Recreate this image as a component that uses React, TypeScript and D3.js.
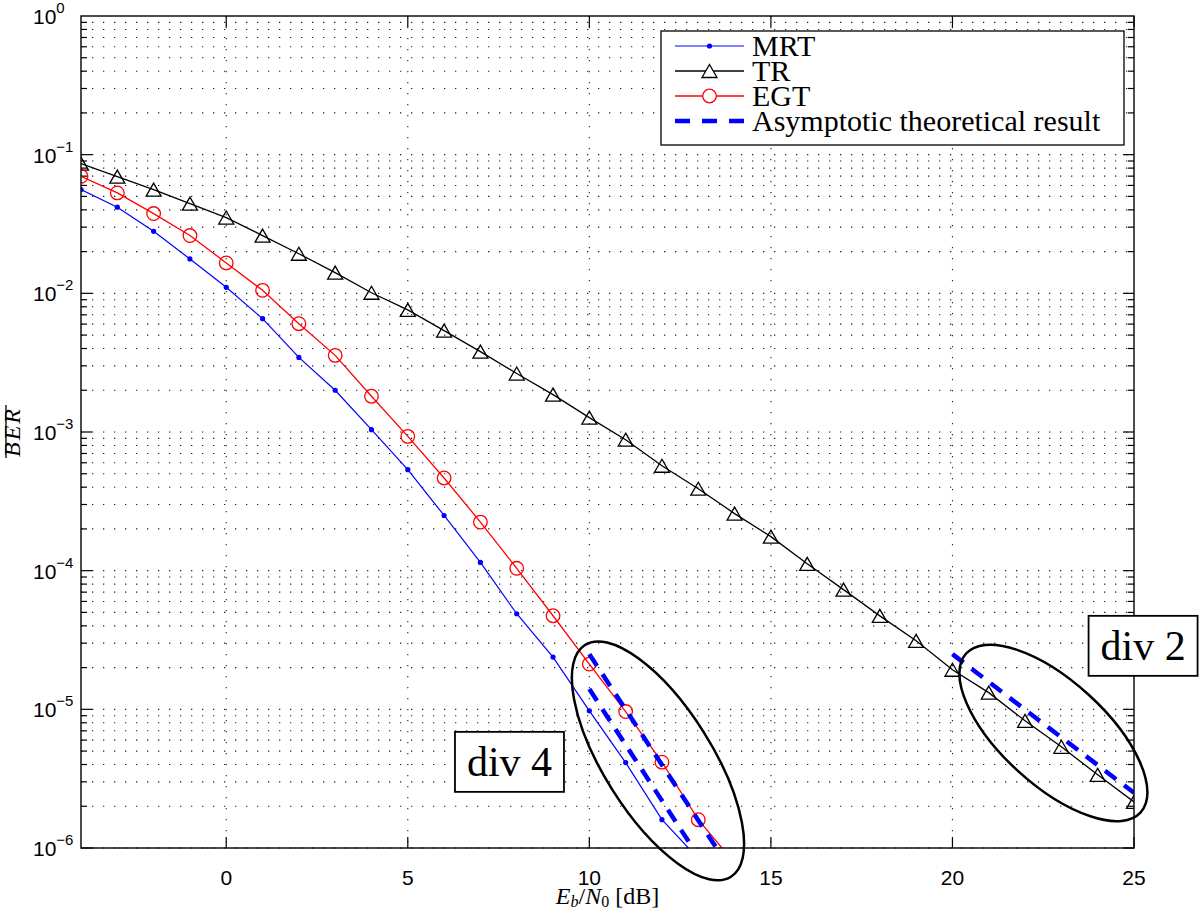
import React from 'react';
import * as d3 from 'd3';

// Eb/N0 grid used by all simulated curves
const snrTR = d3.range(-4, 26);
const snrEGT = d3.range(-4, 15);
const snrMRT = d3.range(-4, 14);

// BER values
const berTR = [
  0.0862, 0.0695, 0.056, 0.0444, 0.0352, 0.0261, 0.0193, 0.0141, 0.0101, 0.0076,
  0.00538, 0.0038, 0.00264, 0.00186, 0.00127, 0.00088, 0.000571, 0.00039, 0.000258, 0.000176,
  0.000112, 7.3e-5, 4.72e-5, 3.12e-5, 1.93e-5, 1.32e-5, 8.26e-6, 5.37e-6, 3.37e-6, 2.15e-6,
];
const berEGT = [
  0.0698, 0.053, 0.0376, 0.0261, 0.01657, 0.01051, 0.00604, 0.00357, 0.00181, 0.00093,
  0.000466, 0.000224, 0.000104, 4.73e-5, 2.12e-5, 9.64e-6, 4.16e-6, 1.6e-6, 7.8e-7,
];
const berMRT = [
  0.056, 0.0418, 0.028, 0.0177, 0.01105, 0.00657, 0.00345, 0.002, 0.00104, 0.000535,
  0.00025, 0.0001146, 4.89e-5, 2.38e-5, 9.75e-6, 4.13e-6, 1.6e-6, 8.4e-7,
];

// asymptotic (diversity-order) lines, [snr, ber] end points
const asymptotes: [number, number][][] = [
  [[10, 2.5e-5], [13.5, 1e-6]],
  [[10, 1.4e-5], [12.85, 1e-6]],
  [[20, 2.5e-5], [25, 2.5e-6]],
];

const xTicks = [0, 5, 10, 15, 20, 25];
const yExponents = [0, -1, -2, -3, -4, -5, -6];

const legendItems = ['MRT', 'TR', 'EGT', 'Asymptotic theoretical result'];

// annotations: ellipses (centre in data units) and "div" boxes
const ellipses = [
  { snr: 11.89, ber: 4.25e-6, rx: 137, ry: 54, angle: 57.8 },
  { snr: 22.78, ber: 6.76e-6, rx: 118, ry: 52, angle: 42.3 },
];
const divLabels = [
  { text: 'div 4', snr: 7.8, ber: 4.18e-6 },
  { text: 'div 2', snr: 25.25, ber: 2.87e-5 },
];

const W = 1200;
const H = 911;
const left = 81, right = 1134, top = 16, bottom = 848;

const sans = '"Liberation Sans", Arial, sans-serif';
const serif = '"Liberation Serif", "Times New Roman", serif';

const App: React.FC = () => {
  const x = d3.scaleLinear().domain([-4, 25]).range([left, right]);
  const y = d3.scaleLog().domain([1e-6, 1]).range([bottom, top]);

  const line = d3
    .line<[number, number]>()
    .x(d => x(d[0]))
    .y(d => y(d[1]));

  const tr = snrTR.map((s, i) => [s, berTR[i]] as [number, number]);
  const egt = snrEGT.map((s, i) => [s, berEGT[i]] as [number, number]);
  const mrt = snrMRT.map((s, i) => [s, berMRT[i]] as [number, number]);

  // minor + major log grid values
  const yGrid: number[] = [];
  for (let e = -6; e < 0; e++) {
    for (let m = 1; m <= 9; m++) yGrid.push(m * Math.pow(10, e));
  }

  const tri = 'M0,-6.5 L7.5,6.5 L-7.5,6.5 Z';

  // legend geometry
  const lgRight = right - 10;
  const lgTop = top + 15;
  const lgW = 463;
  const lgH = 114;
  const lgLeft = lgRight - lgW;
  const rowY = (i: number) => lgTop + 15 + i * 25;

  return (
    <svg width={W} height={H} style={{ position: 'absolute', left: 0, top: 0, background: '#fff' }}>
      <defs>
        <clipPath id="plotClip">
          <rect x={left} y={top} width={right - left} height={bottom - top} />
        </clipPath>
      </defs>
      <rect x={0} y={0} width={W} height={H} fill="#fff" />

      {/* dotted grid */}
      <g stroke="#222" strokeWidth={1.1} strokeDasharray="1.3 9.7">
        {xTicks.filter(t => t < 25).map(t => (
          <line key={'gx' + t} x1={x(t)} x2={x(t)} y1={top} y2={bottom} />
        ))}
        {yGrid.map((v, i) => (
          <line key={'gy' + i} x1={left} x2={right} y1={y(v)} y2={y(v)} />
        ))}
      </g>

      {/* ticks */}
      <g stroke="#000" strokeWidth={1.2}>
        {xTicks.map(t => (
          <g key={'tx' + t}>
            <line x1={x(t)} x2={x(t)} y1={bottom} y2={bottom - 11} />
            <line x1={x(t)} x2={x(t)} y1={top} y2={top + 11} />
          </g>
        ))}
        {yGrid.map((v, i) => {
          const major = i % 9 === 0;
          const len = major ? 11 : 6;
          return (
            <g key={'ty' + i}>
              <line x1={left} x2={left + len} y1={y(v)} y2={y(v)} />
              <line x1={right} x2={right - len} y1={y(v)} y2={y(v)} />
            </g>
          );
        })}
      </g>

      {/* data */}
      <g clipPath="url(#plotClip)">
        <path d={line(mrt) ?? ''} fill="none" stroke="#0000ff" strokeWidth={1.2} />
        {mrt.map((d, i) => (
          <circle key={'m' + i} cx={x(d[0])} cy={y(d[1])} r={2.6} fill="#0000ff" />
        ))}
        <path d={line(tr) ?? ''} fill="none" stroke="#000" strokeWidth={1.3} />
        {tr.map((d, i) => (
          <path key={'t' + i} d={tri} transform={`translate(${x(d[0])},${y(d[1])})`} fill="none" stroke="#000" strokeWidth={1.3} />
        ))}
        <path d={line(egt) ?? ''} fill="none" stroke="#ff0000" strokeWidth={1.3} />
        {egt.map((d, i) => (
          <circle key={'e' + i} cx={x(d[0])} cy={y(d[1])} r={6.8} fill="none" stroke="#ff0000" strokeWidth={1.3} />
        ))}
        {asymptotes.map((a, i) => (
          <path key={'a' + i} d={line(a) ?? ''} fill="none" stroke="#0000ff" strokeWidth={4.5} strokeDasharray="14 10" />
        ))}
      </g>

      {/* axes box */}
      <rect x={left} y={top} width={right - left} height={bottom - top} fill="none" stroke="#000" strokeWidth={1.4} />

      {/* tick labels */}
      <g fontFamily={sans} fontSize={21} fill="#000">
        {xTicks.map(t => (
          <text key={'lx' + t} x={x(t)} y={bottom + 37} textAnchor="middle">{t}</text>
        ))}
        {yExponents.map(e => (
          <text key={'ly' + e} x={33} y={y(Math.pow(10, e)) + 8}>
            10
            <tspan fontSize={15} dy={-11}>{e === 0 ? '0' : '\u2212' + -e}</tspan>
          </text>
        ))}
      </g>

      {/* axis labels */}
      <text x={(left + right) / 2} y={904} textAnchor="middle" fontFamily={serif} fontSize={24}>
        <tspan fontStyle="italic">E</tspan>
        <tspan fontStyle="italic" fontSize={16} dy={3}>b</tspan>
        <tspan dy={-3}>/</tspan>
        <tspan fontStyle="italic">N</tspan>
        <tspan fontSize={16} dy={3}>0</tspan>
        <tspan dy={-3}>{'\u00a0[dB]'}</tspan>
      </text>
      <g transform={`translate(20,${(top + bottom) / 2}) rotate(-90)`}>
        <text x={0} y={0} textAnchor="middle" fontFamily={serif} fontStyle="italic" fontSize={24} letterSpacing={2}>BER</text>
        <line x1={-26} x2={27} y1={-14} y2={-14} stroke="#000" strokeWidth={1.3} />
      </g>

      {/* ellipses */}
      <g fill="none" stroke="#000" strokeWidth={2.5}>
        {ellipses.map((e, i) => (
          <ellipse key={'el' + i} cx={0} cy={0} rx={e.rx} ry={e.ry}
            transform={`translate(${x(e.snr)},${y(e.ber)}) rotate(${e.angle})`} />
        ))}
      </g>

      {/* div boxes */}
      {divLabels.map((d, i) => (
        <g key={'dv' + i} transform={`translate(${x(d.snr)},${y(d.ber)})`}>
          <rect x={-54.5} y={-30} width={109} height={60} fill="#fff" stroke="#000" strokeWidth={1.8} />
          <text x={0} y={14} textAnchor="middle" fontFamily={serif} fontSize={42}>{d.text}</text>
        </g>
      ))}

      {/* legend */}
      <rect x={lgLeft} y={lgTop} width={lgW} height={lgH} fill="#fff" stroke="#000" strokeWidth={1.3} />
      {legendItems.map((name, i) => {
        const ly = rowY(i);
        const x0 = lgLeft + 14;
        const x1 = lgLeft + 83;
        const xm = (x0 + x1) / 2;
        return (
          <g key={'lg' + i}>
            {i === 0 && (
              <g>
                <line x1={x0} x2={x1} y1={ly} y2={ly} stroke="#0000ff" strokeWidth={1.2} />
                <circle cx={xm} cy={ly} r={2.6} fill="#0000ff" />
              </g>
            )}
            {i === 1 && (
              <g>
                <line x1={x0} x2={x1} y1={ly} y2={ly} stroke="#000" strokeWidth={1.3} />
                <path d={tri} transform={`translate(${xm},${ly})`} fill="#fff" stroke="#000" strokeWidth={1.3} />
              </g>
            )}
            {i === 2 && (
              <g>
                <line x1={x0} x2={x1} y1={ly} y2={ly} stroke="#ff0000" strokeWidth={1.3} />
                <circle cx={xm} cy={ly} r={6.8} fill="#fff" stroke="#ff0000" strokeWidth={1.3} />
              </g>
            )}
            {i === 3 && (
              <line x1={x0} x2={x1} y1={ly} y2={ly} stroke="#0000ff" strokeWidth={4.5} strokeDasharray="15 12" />
            )}
            <text x={lgLeft + 91} y={ly + 10} fontFamily={serif} fontSize={30}>{name}</text>
          </g>
        );
      })}
    </svg>
  );
};

export default App;
